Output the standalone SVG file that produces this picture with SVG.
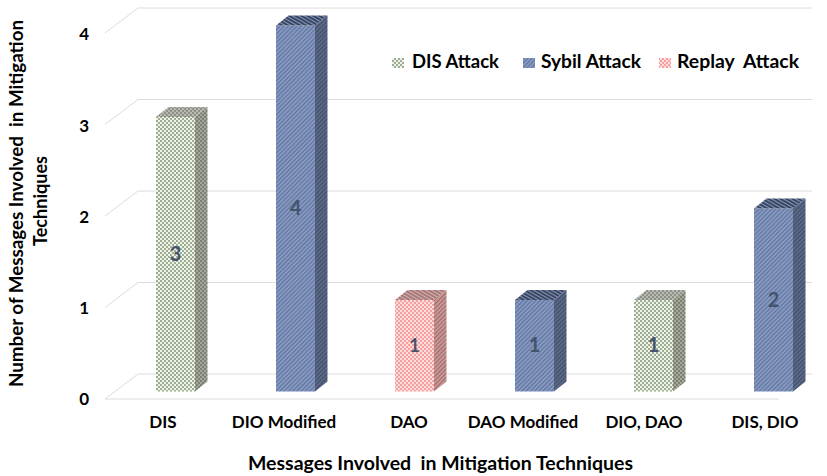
<svg xmlns="http://www.w3.org/2000/svg" width="827" height="476" viewBox="0 0 827 476">
<style>
  text { font-family: Lato, "Liberation Sans", Arial, sans-serif; font-weight: bold; fill: #000; white-space: pre; }
  .grid { stroke: #dcdcdc; stroke-width: 1; fill: none; }
  .tick { font-size: 17px; text-anchor: end; }
  .cat { font-size: 17px; text-anchor: middle; }
  .val { font-size: 20px; text-anchor: middle; fill: #44546a; }
  .leg { font-size: 19px; }
  .title { font-size: 19px; text-anchor: middle; }
</style>
<defs>
  <pattern id="disF" width="4" height="4" patternUnits="userSpaceOnUse">
    <rect width="4" height="4" fill="#f0f3ec"/>
    <rect width="2" height="2" fill="#9eae90"/>
    <rect x="2" y="2" width="2" height="2" fill="#9eae90"/>
  </pattern>
  <pattern id="disS" width="4" height="4" patternUnits="userSpaceOnUse">
    <rect width="4" height="4" fill="#a3a89b"/>
    <rect width="2" height="2" fill="#7b8173"/>
    <rect x="2" y="2" width="2" height="2" fill="#7b8173"/>
  </pattern>
  <pattern id="disT" width="4" height="4" patternUnits="userSpaceOnUse">
    <rect width="4" height="4" fill="#b7bab2"/>
    <rect width="2" height="2" fill="#8d9188"/>
    <rect x="2" y="2" width="2" height="2" fill="#8d9188"/>
  </pattern>
  <pattern id="sybF" width="3" height="3" patternUnits="userSpaceOnUse" patternTransform="rotate(45)">
    <rect width="3" height="3" fill="#8598c0"/>
    <rect width="1" height="3" fill="#5e729c"/>
  </pattern>
  <pattern id="sybS" width="3" height="3" patternUnits="userSpaceOnUse" patternTransform="rotate(45)">
    <rect width="3" height="3" fill="#5b6987"/>
    <rect width="1" height="3" fill="#3f4b66"/>
  </pattern>
  <pattern id="sybT" width="3" height="3" patternUnits="userSpaceOnUse" patternTransform="rotate(-60)">
    <rect width="3" height="3" fill="#3a4763"/>
    <rect width="1" height="3" fill="#8796b8"/>
  </pattern>
  <pattern id="repF" width="4" height="4" patternUnits="userSpaceOnUse">
    <rect width="4" height="4" fill="#ffdcdc"/>
    <rect width="2" height="2" fill="#f4a0a0"/>
    <rect x="2" y="2" width="2" height="2" fill="#f4a0a0"/>
  </pattern>
  <pattern id="repS" width="3" height="3" patternUnits="userSpaceOnUse" patternTransform="rotate(45)">
    <rect width="3" height="3" fill="#c99595"/>
    <rect width="1" height="3" fill="#9a6a6a"/>
  </pattern>
  <pattern id="repT" width="3" height="3" patternUnits="userSpaceOnUse" patternTransform="rotate(-60)">
    <rect width="3" height="3" fill="#a77a7a"/>
    <rect width="1" height="3" fill="#d8b0b0"/>
  </pattern>
</defs>

<g id="gridlines">
  <path class="grid" d="M105 399 L138 374 L812 374 M105 399 L779 399"/>
  <path class="grid" d="M105 307.5 L138 282.5 L812 282.5"/>
  <path class="grid" d="M105 216 L138 191 L812 191"/>
  <path class="grid" d="M105 124.5 L138 99.5 L812 99.5"/>
  <path class="grid" d="M105 33 L138 8 L812 8"/>
</g>

<g id="y-axis">
  <text class="tick" x="89" y="405">0</text>
  <text class="tick" x="89" y="314">1</text>
  <text class="tick" x="89" y="223">2</text>
  <text class="tick" x="89" y="132">3</text>
  <text class="tick" x="89" y="40">4</text>
  <text class="title" transform="translate(23 203.5) rotate(-90)" textLength="367" lengthAdjust="spacingAndGlyphs">Number of Messages Involved  in Mitigation</text>
  <text class="title" transform="translate(46.5 201) rotate(-90)" textLength="90" lengthAdjust="spacingAndGlyphs">Techniques</text>
</g>

<g id="bar-dis">
  <rect x="156" y="117" width="39" height="274.5" fill="url(#disF)"/>
  <polygon points="195,117 207.5,107 207.5,381.5 195,391.5" fill="url(#disS)"/>
  <polygon points="156,117 168.5,107 207.5,107 195,117" fill="url(#disT)"/>
  <text class="val" x="175.5" y="261">3</text>
</g>

<g id="bar-dio-modified">
  <rect x="276" y="25.5" width="39" height="366" fill="url(#sybF)"/>
  <polygon points="315,25.5 327.5,15.5 327.5,381.5 315,391.5" fill="url(#sybS)"/>
  <polygon points="276,25.5 288.5,15.5 327.5,15.5 315,25.5" fill="url(#sybT)"/>
  <text class="val" x="295.5" y="215">4</text>
</g>

<g id="bar-dao">
  <rect x="395" y="300" width="39" height="91.5" fill="url(#repF)"/>
  <polygon points="434,300 446.5,290 446.5,381.5 434,391.5" fill="url(#repS)"/>
  <polygon points="395,300 407.5,290 446.5,290 434,300" fill="url(#repT)"/>
  <text class="val" x="414.5" y="352" style="font-size:18px">1</text>
</g>

<g id="bar-dao-modified">
  <rect x="515" y="300" width="39" height="91.5" fill="url(#sybF)"/>
  <polygon points="554,300 566.5,290 566.5,381.5 554,391.5" fill="url(#sybS)"/>
  <polygon points="515,300 527.5,290 566.5,290 554,300" fill="url(#sybT)"/>
  <text class="val" x="534.5" y="352">1</text>
</g>

<g id="bar-dio-dao">
  <rect x="634" y="300" width="39" height="91.5" fill="url(#disF)"/>
  <polygon points="673,300 685.5,290 685.5,381.5 673,391.5" fill="url(#disS)"/>
  <polygon points="634,300 646.5,290 685.5,290 673,300" fill="url(#disT)"/>
  <text class="val" x="653.5" y="352">1</text>
</g>

<g id="bar-dis-dio">
  <rect x="754" y="208.5" width="39" height="183" fill="url(#sybF)"/>
  <polygon points="793,208.5 805.5,198.5 805.5,381.5 793,391.5" fill="url(#sybS)"/>
  <polygon points="754,208.5 766.5,198.5 805.5,198.5 793,208.5" fill="url(#sybT)"/>
  <text class="val" x="773.5" y="307">2</text>
</g>

<g id="x-axis">
  <text class="cat" x="163" y="428">DIS</text>
  <text class="cat" x="284" y="428">DIO Modified</text>
  <text class="cat" x="409" y="428">DAO</text>
  <text class="cat" x="523" y="428">DAO Modified</text>
  <text class="cat" x="644" y="428">DIO, DAO</text>
  <text class="cat" x="765" y="428">DIS, DIO</text>
  <text class="title" x="440.5" y="470" textLength="385" lengthAdjust="spacingAndGlyphs">Messages Involved  in Mitigation Techniques</text>
</g>

<g id="legend">
  <rect x="392" y="58" width="12" height="10" fill="url(#disF)"/>
  <text class="leg" x="412" y="68" textLength="87" lengthAdjust="spacingAndGlyphs">DIS Attack</text>
  <rect x="523" y="58" width="12" height="10" fill="url(#sybF)"/>
  <text class="leg" x="541" y="68" textLength="100" lengthAdjust="spacingAndGlyphs">Sybil Attack</text>
  <rect x="659" y="58" width="12" height="10" fill="url(#repF)"/>
  <text class="leg" x="677" y="68" textLength="122" lengthAdjust="spacingAndGlyphs">Replay  Attack</text>
</g>
</svg>
